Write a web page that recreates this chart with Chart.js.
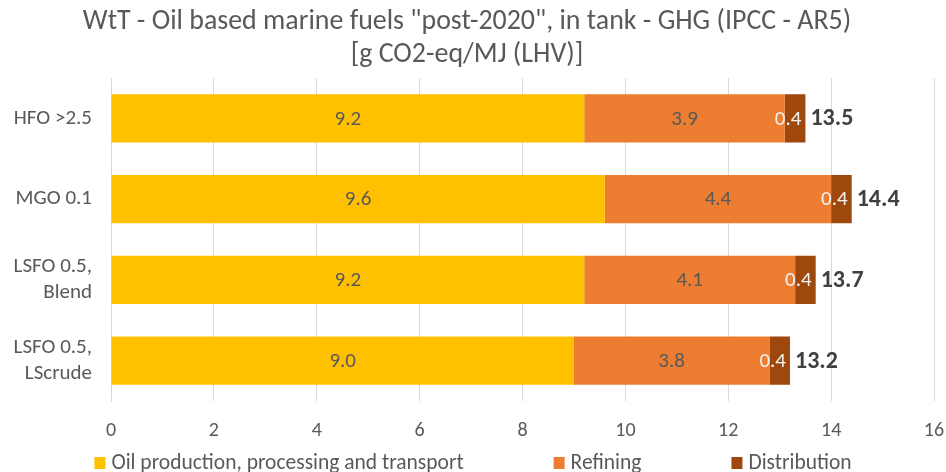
<!DOCTYPE html>
<html>
<head>
<meta charset="utf-8">
<script src="https://cdn.jsdelivr.net/npm/chart.js@4/dist/chart.umd.min.js"></script>
<style>
  html, body { margin: 0; padding: 0; background: #ffffff; }
  #wrap { width: 946px; height: 472px; }
</style>
</head>
<body>
<div id="wrap"><canvas id="chart" width="946" height="472"></canvas></div>
<script>
// Fuel pathways (rows of the chart)
const categories = ['HFO >2.5', 'MGO 0.1', ['LSFO 0.5,', 'Blend'], ['LSFO 0.5,', 'LScrude']];

// Emission contributions per stage, g CO2-eq/MJ (LHV)
const oilProduction = [9.2, 9.6, 9.2, 9.0];
const refining      = [3.9, 4.4, 4.1, 3.8];
const distribution  = [0.4, 0.4, 0.4, 0.4];

const seriesNames = ['Oil production, processing and transport', 'Refining', 'Distribution'];
const xTicks = [0, 2, 4, 6, 8, 10, 12, 14, 16];

const titleLines = ['WtT - Oil based marine fuels "post-2020", in tank - GHG (IPCC - AR5)', '[g CO2-eq/MJ (LHV)]'];

const FONT = "Carlito, 'Open Sans', sans-serif";
const GREY = '#595959';

// Stack totals shown at the end of each bar
const totals = oilProduction.map((v, i) => v + refining[i] + distribution[i]);

// Value labels inside each segment and the total after each bar
const barLabels = {
  id: 'barLabels',
  afterDatasetsDraw(chart) {
    const ctx = chart.ctx;
    ctx.save();
    ctx.textBaseline = 'middle';
    chart.data.datasets.forEach((ds, di) => {
      const meta = chart.getDatasetMeta(di);
      meta.data.forEach((bar, i) => {
        const p = bar.getProps(['x', 'y', 'base'], true);
        const left = Math.min(p.x, p.base), right = Math.max(p.x, p.base);
        const txt = ds.data[i].toFixed(1);
        ctx.font = '21px ' + FONT;
        ctx.fillStyle = ds.labelColor;
        const w = ctx.measureText(txt).width;
        if (w + 6 > right - left) {
          ctx.textAlign = 'right';
          ctx.fillText(txt, right - 4, p.y + 1);
        } else {
          ctx.textAlign = 'center';
          ctx.fillText(txt, (left + right) / 2, p.y + 1);
        }
      });
    });
    const lastMeta = chart.getDatasetMeta(chart.data.datasets.length - 1);
    lastMeta.data.forEach((bar, i) => {
      ctx.font = 'bold 24px ' + FONT;
      ctx.fillStyle = '#404040';
      ctx.textAlign = 'left';
      ctx.fillText(totals[i].toFixed(1), bar.x + 5, bar.y + 1);
    });
    ctx.restore();
  }
};

// Legend row along the bottom edge
const bottomLegend = {
  id: 'bottomLegend',
  afterDraw(chart) {
    const ctx = chart.ctx;
    const ds = chart.data.datasets;
    const boxW = 11, boxH = 12, gapBox = 6, gapItem = 90, y = 463;
    ctx.save();
    ctx.font = '21.5px ' + FONT;
    ctx.textBaseline = 'middle';
    const widths = ds.map(d => boxW + gapBox + ctx.measureText(d.label).width);
    const total = widths.reduce((a, b) => a + b, 0) + gapItem * (ds.length - 1);
    let x = (chart.width - total) / 2;
    ds.forEach((d, i) => {
      ctx.fillStyle = d.backgroundColor;
      ctx.fillRect(x, y - boxH / 2, boxW, boxH);
      ctx.fillStyle = GREY;
      ctx.textAlign = 'left';
      ctx.fillText(d.label, x + boxW + gapBox, y + 1);
      x += widths[i] + gapItem;
    });
    ctx.restore();
  }
};

new Chart(document.getElementById('chart'), {
  type: 'bar',
  data: {
    labels: categories,
    datasets: [
      { label: seriesNames[0], data: oilProduction, backgroundColor: '#FFC000', labelColor: GREY },
      { label: seriesNames[1], data: refining, backgroundColor: '#ED7D31', labelColor: GREY },
      { label: seriesNames[2], data: distribution, backgroundColor: '#9E480E', labelColor: '#F2F2F2' }
    ]
  },
  options: {
    indexAxis: 'y',
    responsive: false,
    animation: false,
    layout: { padding: { left: 0, right: 12, top: 0, bottom: 0 } },
    datasets: { bar: { barPercentage: 0.595, categoryPercentage: 1, borderWidth: 0 } },
    scales: {
      x: {
        stacked: true,
        min: 0, max: 16,
        afterBuildTicks(scale) { scale.ticks = xTicks.map(v => ({ value: v })); },
        afterFit(scale) { scale.height = 71; scale.paddingLeft = 0; scale.paddingRight = 0; },
        grid: { color: '#D9D9D9', drawTicks: false },
        border: { display: false },
        ticks: { color: GREY, font: { family: FONT, size: 20 }, padding: 18 }
      },
      y: {
        stacked: true,
        afterFit(scale) { scale.width = 111; },
        grid: { display: false, drawTicks: false },
        border: { display: true, color: '#D9D9D9' },
        ticks: { color: GREY, font: { family: FONT, size: 21, lineHeight: 1.24 }, padding: 19 }
      }
    },
    plugins: {
      legend: { display: false },
      tooltip: { enabled: false },
      title: {
        display: true,
        text: titleLines,
        color: GREY,
        font: { family: FONT, size: 27.9, weight: 'normal', lineHeight: 33 / 27.9 },
        padding: { top: 5.5, bottom: 6.5 }
      }
    }
  },
  plugins: [barLabels, bottomLegend]
});
</script>
</body>
</html>
